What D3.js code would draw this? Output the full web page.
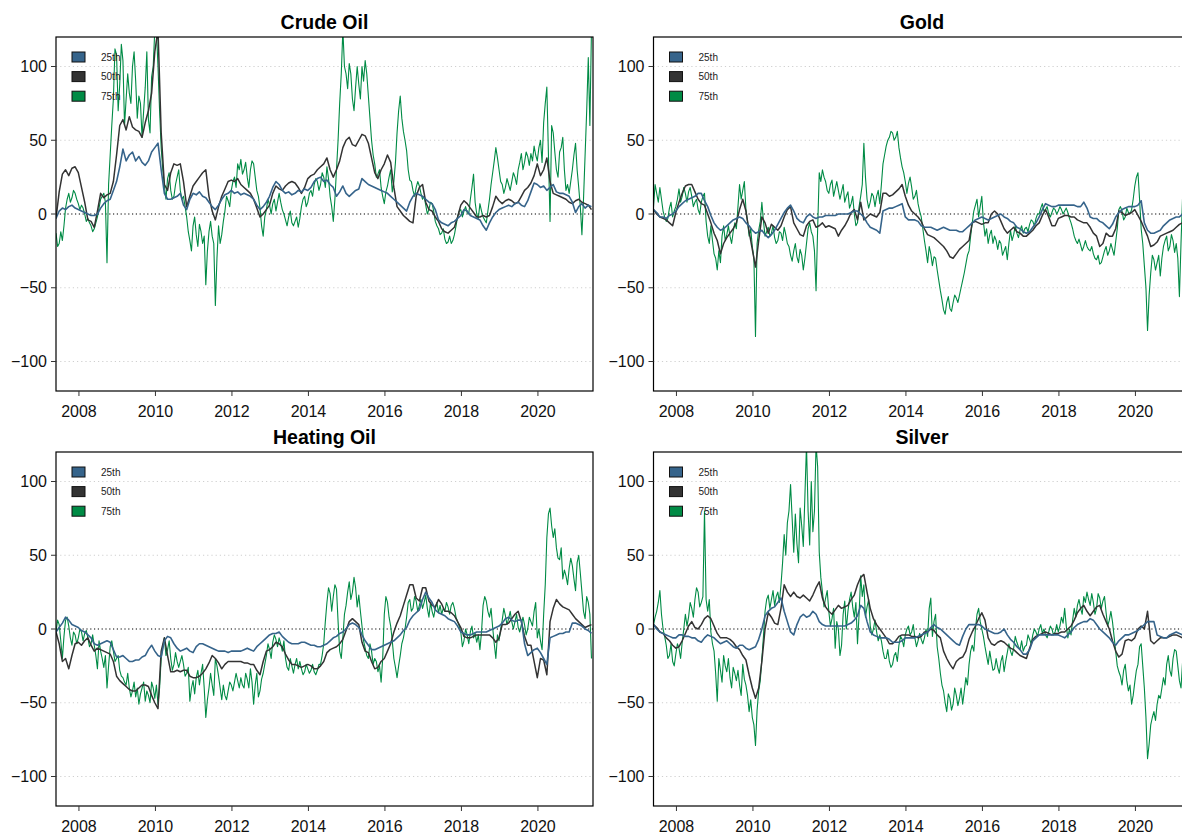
<!DOCTYPE html>
<html>
<head>
<meta charset="utf-8">
<script src="https://cdn.jsdelivr.net/npm/d3@7"></script>
<style>
  html, body { margin: 0; padding: 0; background: #fff; }
  svg { display: block; font-family: "Liberation Sans", Arial, Helvetica, sans-serif; }
</style>
</head>
<body>
<svg id="chart" width="1182" height="835"></svg>
<script>
// Monthly series, first observation at 2007.40, one value per month.
// The 75th-percentile series also carry a mid-month reading ("...Mid" arrays).
const startYear = 2007.40;

const crudeP25 = [-3,2,4,3,5,6,4,3,2,1,0,-1,
  -1,0,4,7,9,10,16,22,32,44,36,40,
  42,36,39,35,33,36,42,45,48,30,14,10,
  10,11,12,14,6,3,10,14,13,15,12,11,
  8,5,3,6,10,13,14,16,14,15,13,14,
  13,12,10,6,3,5,8,12,18,22,20,16,
  14,15,13,14,16,15,17,16,18,22,24,25,
  22,23,20,18,12,15,19,14,12,14,16,17,
  24,22,20,19,18,17,16,15,14,12,10,8,
  6,4,2,8,12,14,13,12,10,8,7,3,
  -4,-6,-7,-8,-6,-5,-3,-1,3,2,-1,-2,
  -3,-4,-8,-11,-6,-2,1,3,4,5,6,5,
  7,8,6,5,9,15,21,20,18,19,16,18,
  20,15,14,14,13,12,8,1,5,7,4,6,5];
const crudeP50 = [-3,15,27,30,26,31,32,28,18,8,-4,-5,
  -9,2,14,11,13,14,22,40,60,64,57,66,
  59,57,56,52,62,70,82,110,125,55,20,16,
  28,34,33,34,22,5,12,19,22,25,28,30,
  12,2,-4,5,12,17,22,23,22,24,20,18,
  16,14,10,4,-2,0,3,6,14,19,17,16,
  19,21,22,21,18,14,18,24,26,27,30,32,
  34,38,30,25,30,36,45,50,52,47,46,50,
  54,53,48,38,28,24,30,34,40,35,18,5,
  2,-1,-3,-5,-6,12,18,20,8,3,2,-2,
  -5,-10,-12,-13,-11,-9,-2,6,9,7,4,1,
  -2,-2,-1,-2,-1,5,12,9,7,9,10,9,
  7,8,12,16,18,21,26,34,26,30,38,22,
  14,13,12,11,10,8,7,9,10,8,7,6,3];
const crudeP75 = [-13,-20,-18,4,14,11,14,7,6,0,-3,-8,
  -10,-2,10,14,-33,40,78,108,88,104,78,82,
  100,90,80,52,86,64,93,125,100,45,19,24,
  16,12,25,16,12,-2,-18,-8,-14,-7,-20,-48,
  -12,-15,-62,-8,-14,2,9,16,25,34,37,30,
  25,30,34,16,4,-15,3,6,7,2,14,3,
  -4,-2,-6,-5,-9,5,12,8,16,20,22,20,
  25,32,12,-5,30,75,125,95,102,78,86,88,
  100,104,80,50,34,27,18,7,19,30,22,55,
  80,56,43,23,16,18,19,10,6,3,7,-5,
  -10,-13,-17,-19,-20,-14,-2,3,2,1,10,27,
  0,7,-2,-6,10,28,45,30,20,18,20,22,
  25,30,41,35,39,41,46,36,50,62,86,-5,
  55,30,42,52,16,14,30,48,18,-14,40,106,125];
const crudeP75Mid = [-22,-12,-8,10,8,16,10,3,4,-5,-6,-12,
  -6,4,12,8,20,60,112,70,115,60,95,75,
  110,65,75,70,110,55,100,125,70,30,10,28,
  10,20,30,10,5,-12,-25,-2,-22,-12,-15,-25,
  -5,-20,-30,-20,-5,12,5,22,18,30,27,35,
  18,36,25,12,-8,-2,10,0,10,8,8,0,
  -8,2,-8,-2,-3,10,5,14,12,24,16,28,
  18,24,5,10,50,95,100,85,95,70,100,78,
  90,95,65,40,25,30,12,15,25,15,35,70,
  65,50,30,22,12,22,14,12,0,8,2,-8,
  -14,-10,-20,-15,-18,-8,2,-2,5,0,18,8,
  -3,2,-4,2,20,36,38,22,14,24,16,28,
  20,35,30,42,33,36,40,45,35,75,40,60,
  42,25,45,30,20,22,40,30,5,10,70,60];

const goldP25 = [3,1,-2,-2,-3,-1,0,2,5,7,9,10,
  11,12,14,14,9,5,-1,-6,-9,-11,-10,-8,
  -6,-4,-3,-2,-3,-6,-8,-11,-13,-12,-11,-14,
  -16,-14,-11,-7,-3,1,4,6,2,-3,-5,-6,
  -2,0,-2,-3,-2,-2,-1,-1,-1,-1,0,0,
  0,0,1,2,2,0,-2,-6,-9,-10,-11,-13,
  2,3,4,4,5,6,7,-2,-4,-4,-4,-5,
  -8,-9,-9,-9,-10,-11,-10,-9,-10,-11,-11,-11,
  -12,-12,-10,-8,-6,-4,-3,-2,-3,-4,-3,-2,
  -1,0,-2,-3,-5,-6,-9,-10,-12,-13,-12,-9,
  -6,-2,3,7,6,5,5,6,6,6,6,6,
  6,5,5,8,4,-2,-3,-3,-5,-6,-8,-10,
  -7,-2,1,3,4,5,5,5,6,9,-6,-11,
  -13,-13,-12,-11,-8,-6,-4,-3,-2,-2,0,1,1];
const goldP50 = [3,0,-2,-3,-4,-6,-8,1,8,14,19,20,
  20,15,10,7,6,0,-6,-13,-18,-27,-20,-16,
  -13,-10,-6,3,10,2,-12,-24,-36,-18,-2,-6,
  -13,-7,-9,-11,-8,-2,3,5,-6,-10,-14,-15,
  -8,-5,-4,-9,-8,-6,-9,-8,-9,-10,-15,-11,
  -8,-4,1,3,-4,8,-4,-2,0,-1,-2,1,
  14,14,12,13,15,17,20,12,6,2,0,-2,
  -5,-10,-14,-15,-16,-18,-20,-22,-25,-29,-30,-27,
  -24,-22,-20,-18,-6,-5,-6,-7,-6,-6,0,2,
  0,-5,-10,-13,-11,-9,-12,-13,-15,-15,-13,-11,
  -8,-6,-1,3,-2,-8,-8,-3,-2,-1,-1,-2,
  -2,-4,-5,-6,-6,-9,-13,-15,-22,-20,-13,-15,
  -15,-10,2,1,-1,0,1,3,-1,-5,-10,-15,
  -22,-21,-19,-15,-14,-13,-12,-11,-9,-7,-6,-5,-4];
const goldP75 = [5,14,18,2,-5,4,-2,5,17,12,14,15,
  12,8,3,8,14,-15,-8,-27,-38,-33,-8,-14,
  -15,-12,-10,20,16,3,-15,-22,-83,-11,8,-15,
  -9,-13,-16,-18,-13,-9,-20,-28,-25,-29,-24,-38,
  -20,-6,-15,-52,28,30,22,14,23,17,16,15,
  8,15,7,0,-6,12,48,10,8,12,12,7,
  34,46,52,55,52,45,32,22,21,18,12,7,
  -2,-18,-33,-27,-29,-38,-52,-65,-60,-64,-60,-57,
  -55,-45,-34,-25,-6,6,-2,12,-15,-20,-11,-15,
  -24,-20,-25,-31,-11,-14,-13,-11,-13,-9,-7,-5,
  -3,0,7,3,0,1,3,2,3,2,1,-6,
  -15,-20,-21,-22,-22,-25,-27,-31,-34,-29,-22,-25,
  -24,-19,3,2,-2,1,3,19,28,-10,-35,-79,
  -40,-31,-33,-42,-22,-15,-22,-18,-20,-56,12,10,8];
const goldP75Mid = [20,8,10,-2,-3,8,2,10,8,18,8,18,
  5,10,0,12,-5,-20,-18,-30,-25,-15,-18,-8,
  -20,-6,5,10,22,-5,-10,-30,-20,-5,-5,-12,
  -15,-8,-20,-12,-18,-14,-22,-32,-20,-33,-28,-30,
  -10,-12,-25,-10,22,25,16,20,12,22,10,20,
  12,4,12,-8,5,20,25,4,14,5,16,20,
  40,50,56,50,56,38,28,14,25,10,16,2,
  -10,-25,-22,-35,-30,-45,-58,-68,-56,-66,-55,-60,
  -50,-40,-28,-15,2,10,5,-5,-10,-14,-20,-18,
  -18,-28,-22,-20,-18,-8,-16,-8,-10,-12,-4,-8,
  0,4,2,5,-2,4,0,5,0,4,-3,-10,
  -18,-17,-25,-18,-24,-22,-30,-28,-33,-25,-28,-20,
  -28,-10,5,-4,4,0,10,25,10,-20,-50,-55,
  -28,-38,-28,-30,-18,-25,-14,-26,-30,-20,0,14];

const heatP25 = [-2,1,4,8,6,3,2,1,-1,-2,-4,-6,
  -10,-11,-10,-9,-8,-9,-14,-19,-19,-18,-20,-22,
  -22,-21,-21,-19,-18,-14,-11,-15,-18,-19,-8,-5,
  -6,-10,-13,-15,-14,-13,-15,-16,-12,-10,-10,-11,
  -12,-13,-14,-15,-15,-15,-16,-15,-15,-15,-15,-14,
  -13,-14,-15,-12,-10,-8,-6,-4,-3,-3,-2,-5,
  -7,-9,-10,-10,-10,-9,-9,-10,-11,-11,-12,-12,
  -11,-10,-8,-6,-5,-3,-2,0,3,4,3,1,
  -4,-8,-11,-14,-14,-13,-12,-11,-10,-9,-8,-6,
  -4,-1,1,6,9,11,13,20,25,21,18,13,
  11,10,9,7,6,5,2,-2,-3,-4,-4,-3,
  -2,-2,-2,-2,-1,0,1,2,4,7,8,6,
  5,6,6,-10,-18,-16,-14,-13,-16,-20,-24,-6,
  -5,-4,-3,-3,-2,-2,4,4,3,2,0,-1,-3];
const heatP50 = [-2,-10,-22,-20,-27,-18,-10,-9,-11,-8,-6,-11,
  -15,-13,-14,-15,-16,-17,-22,-32,-35,-37,-39,-41,
  -42,-42,-40,-38,-38,-39,-45,-50,-54,-15,-6,-18,
  -29,-29,-28,-29,-28,-28,-32,-33,-33,-32,-30,-27,
  -23,-18,-20,-23,-27,-24,-22,-22,-22,-22,-22,-23,
  -23,-24,-24,-28,-31,-22,-15,-14,-12,-9,-10,-12,
  -17,-21,-24,-24,-25,-26,-25,-24,-25,-27,-27,-25,
  -22,-16,-14,-13,-12,-10,-7,-1,5,7,5,3,
  -9,-15,-16,-22,-27,-26,-22,-20,-15,-10,-2,4,
  9,16,23,30,30,21,19,28,28,19,16,15,
  20,17,12,12,11,9,5,1,-5,-6,-6,-5,
  -4,-4,-4,-4,-4,-6,-9,-6,3,3,4,7,
  10,12,5,-5,-11,-11,-22,-33,-20,-21,-31,5,
  14,20,17,15,14,13,10,7,5,3,1,2,3];
const heatP75 = [-2,3,-20,6,2,-11,-4,-6,-2,-3,-6,-10,
  -11,-27,-15,-26,-40,-12,-15,-20,-28,-33,-38,-40,
  -42,-46,-51,-40,-49,-45,-36,-47,-51,-20,-6,-14,
  -20,-24,-22,-22,-24,-30,-49,-35,-33,-38,-24,-60,
  -40,-38,-20,-32,-48,-45,-42,-38,-36,-35,-33,-40,
  -34,-27,-51,-30,-42,-30,-18,-14,-9,-7,-6,-15,
  -20,-28,-25,-24,-27,-27,-29,-27,-28,-29,-28,-24,
  -10,18,24,22,27,-15,-6,16,32,25,28,23,
  2,-13,-20,-15,-20,-29,-36,10,18,2,-20,-33,
  -18,-6,8,20,14,19,16,14,23,8,12,14,
  11,10,12,15,16,14,5,-2,-8,-4,-2,-6,
  -9,-14,16,19,8,1,-20,-8,6,9,7,5,
  5,1,3,3,0,5,12,-6,-8,10,62,82,
  62,55,47,34,36,41,43,26,50,25,7,18,-20];
const heatP75Mid = [6,-8,-5,8,-6,-2,-10,0,-8,-1,-12,-4,
  -18,-8,-20,-18,-25,-8,-22,-18,-32,-36,-30,-46,
  -36,-40,-44,-36,-42,-50,-40,-38,-40,-12,-18,-8,
  -28,-16,-26,-18,-32,-26,-40,-44,-28,-30,-40,-48,
  -30,-45,-25,-40,-38,-48,-36,-42,-30,-40,-38,-30,
  -40,-36,-38,-46,-34,-24,-10,-20,-4,-12,-10,-8,
  -26,-20,-30,-20,-22,-31,-24,-30,-24,-31,-24,-18,
  5,28,12,30,5,-20,10,25,20,35,15,12,
  -8,-18,-10,-24,-22,-25,-20,22,8,-8,-26,-25,
  -10,0,18,12,22,12,20,18,14,18,8,18,
  16,14,18,10,18,8,2,-12,0,-10,2,-3,
  -4,-2,22,12,14,-10,-4,0,14,3,12,0,
  10,-2,8,-4,8,2,18,0,-14,30,78,70,
  68,48,55,40,30,48,34,45,38,12,22,10];

const silverP25 = [3,0,-2,-3,-4,-5,-6,-6,-4,-4,-5,-5,
  -6,-6,-8,-9,-6,-4,-5,-6,-8,-10,-9,-8,
  -10,-12,-13,-11,-11,-13,-14,-13,-12,-7,0,9,
  12,14,15,18,21,12,5,-2,-4,3,8,10,
  8,9,12,10,5,3,2,2,2,2,2,2,
  2,3,4,6,9,16,14,5,-2,-4,-5,-6,
  -6,-6,-7,-9,-9,-9,-8,-6,-6,-6,-6,-5,
  -4,-3,-2,1,3,1,0,-2,-4,-6,-8,-10,
  -11,-5,0,3,3,3,3,2,0,-1,-2,-3,
  -3,-2,0,-4,-7,-9,-12,-14,-17,-17,-14,-8,
  -6,-4,-4,-4,-4,-4,-4,-4,-5,-6,-4,-2,
  1,3,4,5,5,7,6,3,0,-2,-4,-6,
  -9,-11,-8,-6,-4,-4,-3,-2,-1,1,3,5,
  5,5,-4,-5,-6,-6,-4,-3,-2,-3,-4,-5,-5];
const silverP50 = [3,1,-2,-3,-6,-8,-11,-13,-12,-8,-3,2,
  5,1,0,3,7,9,7,2,-3,-6,-6,-6,
  -7,-9,-12,-14,-18,-21,-31,-40,-47,-40,-22,0,
  11,8,4,3,14,30,25,22,25,22,21,23,
  21,19,23,28,32,21,15,12,10,13,16,14,
  15,16,20,23,30,35,37,25,14,7,3,0,
  -3,-6,-10,-10,-8,-5,-4,-4,-4,-5,-5,-6,
  -5,-2,-2,0,-1,-4,-6,-15,-20,-24,-27,-22,
  -20,-19,-15,-7,-2,2,7,11,6,-6,-10,-11,
  -9,-8,-9,-11,-13,-14,-16,-18,-19,-20,-13,-7,
  -5,-4,-3,-2,-3,-4,-3,-3,-2,-2,0,2,
  6,11,14,16,12,9,12,15,16,10,5,0,
  -8,-15,-19,-17,-8,-7,-8,-6,0,2,0,12,
  -8,-10,-8,-6,-6,-6,-5,-4,-4,-5,-6,-6,-6];
const silverP75 = [3,12,26,0,-11,-18,-22,-17,-13,-9,10,8,
  14,20,25,18,80,12,-2,-15,-49,-28,-18,-29,
  -33,-26,-35,-38,-24,-38,-56,-60,-79,-42,-20,12,
  23,20,16,25,30,64,72,98,52,58,82,56,
  125,57,66,125,52,25,21,12,7,-13,0,-11,
  19,12,25,8,-10,36,30,15,2,0,-2,-4,
  -15,-20,-22,-24,-16,-11,-7,-4,2,-2,-6,-8,
  -7,-6,-5,21,5,-12,-30,-42,-56,-47,-51,-45,
  -47,-51,-33,-24,-11,0,14,0,-12,-24,-22,-27,
  -26,-22,-29,-16,-15,-13,-9,-14,-15,-11,-7,-4,
  -2,0,-3,-4,-2,0,-2,-2,8,14,-6,-4,
  14,16,14,22,25,16,18,14,21,19,11,6,
  5,-15,-29,-38,-24,-42,-51,-36,-24,-10,-40,-88,
  -65,-56,-51,-47,-33,-24,-28,-20,-15,-35,-22,-30,-25];
const silverP75Mid = [8,18,10,-5,-20,-10,-25,-10,-20,0,2,18,
  8,28,15,22,20,20,-10,-30,-20,-36,-25,-20,
  -40,-30,-28,-45,-34,-45,-48,-65,-55,-35,-5,20,
  14,26,22,18,45,50,80,75,78,45,70,90,
  80,100,80,110,35,15,26,2,14,5,-18,10,
  0,20,15,18,10,22,8,20,-4,6,-8,-8,
  -20,-14,-26,-18,-22,-5,-12,0,-4,3,-12,-3,
  -10,0,14,-5,10,-20,-38,-50,-44,-55,-40,-52,
  -40,-42,-38,-15,-15,10,5,-5,-18,-15,-28,-20,
  -30,-18,-22,-10,-18,-5,-12,-8,-12,-4,-10,0,
  -5,3,0,-6,2,-4,3,2,4,2,0,6,
  8,20,10,18,20,24,10,24,14,22,2,12,
  -5,-25,-32,-28,-35,-38,-45,-28,-12,-25,-60,-78,
  -60,-62,-45,-40,-38,-18,-32,-14,-25,-40,-28,-38];

const panelTitles = ["Crude Oil", "Gold", "Heating Oil", "Silver"];
const seriesNames = ["25th", "50th", "75th"];
const seriesColors = ["#36648B", "#333333", "#008B45"];
const yTicks = [-100, -50, 0, 50, 100];
const xTicks = [2008, 2010, 2012, 2014, 2016, 2018, 2020];

const panelSeries = [
  [crudeP25, crudeP50, crudeP75, crudeP75Mid],
  [goldP25, goldP50, goldP75, goldP75Mid],
  [heatP25, heatP50, heatP75, heatP75Mid],
  [silverP25, silverP50, silverP75, silverP75Mid]
];

// Pair each value with its date (months after startYear); mid-month readings go half a month later.
function toPoints(values, mids) {
  const pts = [];
  values.forEach((v, i) => {
    pts.push({ m: i, v });
    if (mids && i < mids.length) pts.push({ m: i + 0.5, v: mids[i] });
  });
  return pts;
}

const svg = d3.select("#chart");
const panelW = 537, panelH = 354;
const origins = [[56, 37], [653.5, 37], [56, 452], [653.5, 452]];

const x = d3.scaleLinear().domain([2007.40, 2021.44]).range([0, panelW]);
const y = d3.scaleLinear().domain([-120, 120]).range([panelH, 0]);
const fmt = d3.format("d");

panelTitles.forEach((title, p) => {
  const [ox, oy] = origins[p];
  const g = svg.append("g").attr("transform", `translate(${ox},${oy})`);

  g.append("defs").append("clipPath").attr("id", "clip" + p)
    .append("rect").attr("width", panelW).attr("height", panelH);

  // horizontal grid
  g.selectAll(".grid").data(yTicks.filter(d => d !== 0)).enter().append("line")
    .attr("x1", 0).attr("x2", panelW)
    .attr("y1", d => y(d)).attr("y2", d => y(d))
    .attr("stroke", "#cfcfcf").attr("stroke-width", 1)
    .attr("stroke-dasharray", "1.2,3");

  // zero reference
  g.append("line")
    .attr("x1", 0).attr("x2", panelW)
    .attr("y1", y(0)).attr("y2", y(0))
    .attr("stroke", "#000").attr("stroke-width", 1.1)
    .attr("stroke-dasharray", "1.2,2.6");

  const line = d3.line()
    .x(d => x(startYear + d.m / 12))
    .y(d => y(d.v));

  const [s25, s50, s75, s75mid] = panelSeries[p];
  const series = [toPoints(s25), toPoints(s50), toPoints(s75, s75mid)];

  const lines = g.append("g").attr("clip-path", `url(#clip${p})`);
  const order = [2, 1, 0];
  const widths = [1.6, 1.5, 1.1];
  order.forEach(s => {
    lines.append("path")
      .datum(series[s])
      .attr("fill", "none")
      .attr("stroke", seriesColors[s])
      .attr("stroke-width", widths[s])
      .attr("stroke-linejoin", "round")
      .attr("d", line);
  });

  // panel frame
  g.append("rect").attr("width", panelW).attr("height", panelH)
    .attr("fill", "none").attr("stroke", "#000").attr("stroke-width", 1.2);

  // y axis
  const ya = g.append("g");
  yTicks.forEach(t => {
    ya.append("line").attr("x1", -5).attr("x2", 0)
      .attr("y1", y(t)).attr("y2", y(t)).attr("stroke", "#333").attr("stroke-width", 1);
    ya.append("text").attr("x", -9).attr("y", y(t) + 5.5)
      .attr("text-anchor", "end").attr("font-size", 16).attr("fill", "#111")
      .text(fmt(t));
  });

  // x axis
  const xa = g.append("g");
  xTicks.forEach(t => {
    xa.append("line").attr("x1", x(t)).attr("x2", x(t))
      .attr("y1", panelH).attr("y2", panelH + 5).attr("stroke", "#333").attr("stroke-width", 1);
    xa.append("text").attr("x", x(t)).attr("y", panelH + 25.5)
      .attr("text-anchor", "middle").attr("font-size", 16).attr("fill", "#111")
      .text(fmt(t));
  });

  // title
  g.append("text").attr("x", panelW / 2).attr("y", -8)
    .attr("text-anchor", "middle").attr("font-size", 19.5).attr("font-weight", "bold")
    .attr("fill", "#000").text(title);

  // legend
  const lg = g.append("g");
  seriesNames.forEach((name, s) => {
    const ly = 15 + s * 19.6;
    lg.append("rect").attr("x", 16).attr("y", ly).attr("width", 13).attr("height", 10)
      .attr("fill", seriesColors[s]).attr("stroke", "#111").attr("stroke-width", 1);
    lg.append("text").attr("x", 45).attr("y", ly + 8.5)
      .attr("font-size", 10).attr("fill", "#222").text(name);
  });
});
</script>
</body>
</html>
